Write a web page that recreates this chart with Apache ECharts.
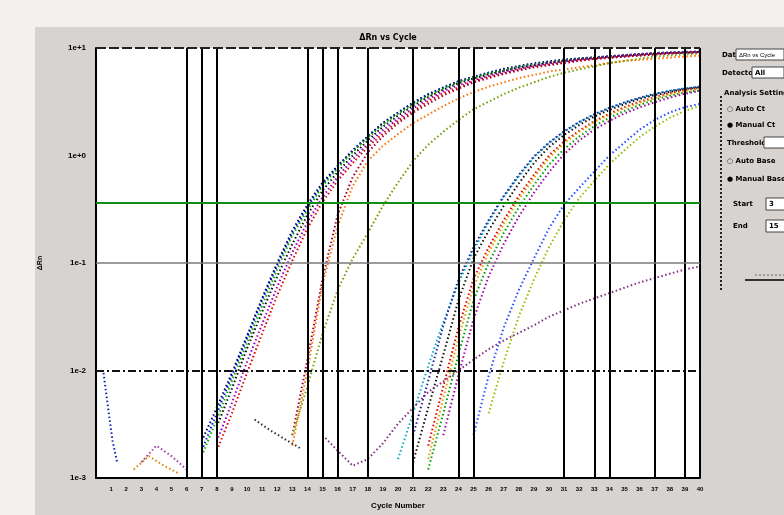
<!DOCTYPE html>
<html><head><meta charset="utf-8">
<script src="https://cdn.jsdelivr.net/npm/echarts@6/dist/echarts.min.js"></script>
<style>html,body{margin:0;padding:0;background:#f3f1ef}#c{width:784px;height:515px}</style>
</head><body><div id="c"></div>
<script>
// ---------- data ----------
const cycleLabels = ['1','2','3','4','5','6','7','8','9','10','11','12','13','14','15','16','17','18','19','20','21','22','23','24','25','26','27','28','29','30','31','32','33','34','35','36','37','38','39','40'];
const yTickValues = [0.001, 0.01, 0.1, 1, 10];
const yTickLabels = ['1e-3', '1e-2', '1e-1', '1e+0', '1e+1'];
const threshold = 0.36;
const markerCycles = [6, 7, 8, 14, 15, 16, 18, 21, 24, 25, 31, 33, 34, 37, 39];

// early wells (ΔRn per cycle, first value at given start cycle)
const wellE1 = [0.0018,0.004,0.0089,0.02,0.045,0.095,0.19,0.33,0.54,0.79,1.12,1.51,2.0,2.51,3.09,3.72,4.27,4.9,5.37,5.89,6.31,6.76,7.08,7.41,7.76,7.94,8.13,8.32,8.51,8.71,8.91,9.02,9.12,9.23];
const wellE2 = [0.0022,0.0045,0.0095,0.021,0.047,0.1,0.2,0.35,0.56,0.8,1.1,1.5,2.0,2.5,3.1,3.7,4.3,4.9,5.4,5.9,6.4,6.8,7.2,7.5,7.8,8.0,8.2,8.4,8.6,8.8,9.0,9.1,9.2,9.3];
const wellE3 = [0.0016,0.0035,0.008,0.018,0.04,0.087,0.18,0.31,0.52,0.76,1.08,1.47,1.95,2.45,3.0,3.6,4.2,4.8,5.3,5.8,6.2,6.7,7.0,7.3,7.7,7.9,8.1,8.3,8.5,8.7,8.9,9.0,9.1,9.2];
const wellE4 = [0.003,0.0068,0.016,0.035,0.075,0.15,0.28,0.47,0.7,1.0,1.38,1.85,2.35,2.9,3.5,4.1,4.7,5.2,5.7,6.1,6.6,6.9,7.3,7.6,7.9,8.1,8.3,8.5,8.7,8.9,9.0,9.1,9.2];
const wellE5 = [0.0022,0.005,0.012,0.027,0.06,0.125,0.24,0.41,0.63,0.92,1.28,1.72,2.2,2.75,3.35,3.95,4.5,5.0,5.5,6.0,6.4,6.8,7.2,7.5,7.8,8.0,8.3,8.5,8.7,8.9,9.0,9.1,9.2];
const wellE6 = [0.0018,0.004,0.0095,0.022,0.05,0.105,0.21,0.37,0.58,0.85,1.2,1.6,2.1,2.6,3.2,3.8,4.3,4.9,5.4,5.8,6.3,6.7,7.0,7.4,7.7,7.9,8.1,8.3,8.5,8.7,8.9,9.0,9.1];
const wellE7 = [0.0025,0.0126,0.071,0.28,0.63,1.07,1.51,2.0,2.51,3.02,3.63,4.17,4.79,5.25,5.75,6.17,6.61,6.92,7.24,7.59,7.94,8.13,8.32,8.51,8.71,8.91,9.02,9.12];
const wellE8 = [0.002,0.01,0.063,0.22,0.52,0.89,1.23,1.58,2.0,2.4,2.88,3.39,3.89,4.37,4.79,5.25,5.62,6.03,6.31,6.61,6.92,7.24,7.59,7.76,7.94,8.13,8.32,8.51];
const wellE9 = [0.0025,0.0071,0.022,0.056,0.11,0.19,0.34,0.56,0.89,1.26,1.66,2.14,2.69,3.16,3.72,4.27,4.79,5.37,5.89,6.31,6.76,7.24,7.59,7.94,8.32,8.51,8.71,8.91];
// late wells
const wellL1 = [0.0015,0.004,0.011,0.028,0.065,0.13,0.24,0.41,0.64,0.96,1.3,1.66,2.04,2.4,2.76,3.1,3.42,3.72,3.98,4.2,4.4];
const wellL2 = [0.0014,0.0045,0.014,0.045,0.11,0.2,0.34,0.55,0.85,1.2,1.55,1.92,2.3,2.65,3.0,3.35,3.65,3.9,4.15,4.3];
const wellL3 = [0.002,0.0071,0.025,0.071,0.14,0.25,0.42,0.66,1.0,1.35,1.7,2.09,2.45,2.82,3.16,3.47,3.8,4.07,4.27];
const wellL4 = [0.0015,0.0055,0.02,0.06,0.125,0.23,0.39,0.62,0.95,1.3,1.66,2.04,2.4,2.76,3.1,3.42,3.72,3.98,4.2];
const wellL5 = [0.0012,0.004,0.014,0.045,0.1,0.19,0.33,0.53,0.82,1.15,1.5,1.88,2.25,2.6,2.95,3.3,3.6,3.85,4.05];
const wellL6 = [0.0025,0.009,0.03,0.075,0.15,0.27,0.45,0.7,1.03,1.38,1.74,2.1,2.46,2.8,3.13,3.45,3.75,4.0];
const wellL7 = [0.0025,0.008,0.026,0.07,0.14,0.25,0.42,0.66,0.98,1.32,1.68,2.05,2.42,2.78,3.12,3.45,3.75,4.0,4.2,4.35];
const wellL8 = [0.0025,0.0089,0.025,0.056,0.11,0.21,0.35,0.5,0.71,1.0,1.32,1.74,2.14,2.51,2.82,3.02];
const wellL9 = [0.004,0.012,0.032,0.07,0.14,0.25,0.4,0.58,0.83,1.12,1.48,1.86,2.24,2.6,2.9];
// slow / noise wells
const wellP1 = [0.0025,0.0018,0.0013,0.0015,0.0021,0.0032,0.0045,0.0063,0.0079,0.01,0.0126,0.0158,0.019,0.0224,0.0263,0.0316,0.0363,0.0417,0.0468,0.0525,0.0589,0.066,0.0724,0.0794,0.087,0.093];
const wellN1 = [0.0095,0.0045,0.0022,0.0014];
const wellN2 = [0.0012,0.0016,0.0013,0.0011];
const wellN3 = [0.0014,0.002,0.0016,0.0012];
const wellN4 = [0.0035,0.0028,0.0023,0.0019];

const wells = [
  {name:'E1', start:7, values:wellE1, color:'#0010ff'},
  {name:'E2', start:7, values:wellE2, color:'#000070'},
  {name:'E3', start:7, values:wellE3, color:'#00b000'},
  {name:'E4', start:8, values:wellE4, color:'#101010'},
  {name:'E5', start:8, values:wellE5, color:'#9000c0'},
  {name:'E6', start:8, values:wellE6, color:'#e00000'},
  {name:'E7', start:13, values:wellE7, color:'#a00030'},
  {name:'E8', start:13, values:wellE8, color:'#ff7000'},
  {name:'E9', start:13, values:wellE9, color:'#70a000'},
  {name:'L1', start:20, values:wellL1, color:'#00b0c0'},
  {name:'L2', start:21, values:wellL2, color:'#101010'},
  {name:'L3', start:22, values:wellL3, color:'#e00000'},
  {name:'L4', start:22, values:wellL4, color:'#e0a000'},
  {name:'L5', start:22, values:wellL5, color:'#00a000'},
  {name:'L6', start:23, values:wellL6, color:'#a000a0'},
  {name:'L7', start:21, values:wellL7, color:'#2020a0'},
  {name:'L8', start:25, values:wellL8, color:'#2050ff'},
  {name:'L9', start:26, values:wellL9, color:'#90c000'},
  {name:'P1', start:15, values:wellP1, color:'#803080'},
  {name:'N1', start:0.5, step:0.3, values:wellN1, color:'#1020b0'},
  {name:'N2', start:2.5, values:wellN2, color:'#e08000'},
  {name:'N3', start:3, values:wellN3, color:'#a040a0'},
  {name:'N4', start:10.5, values:wellN4, color:'#303030'}
];

// ---------- chart ----------
const chart = echarts.init(document.getElementById('c'), null, {renderer:'canvas'});
const series = wells.map(w => ({
  name: w.name, type:'line', showSymbol:false, silent:true, z:3,
  data: w.values.map((v,i) => [w.start + i*(w.step||1), v]),
  lineStyle:{color:w.color, width:2, type:[1.5,2.5]}
}));
series.push({
  type:'line', data:[], silent:true, z:2,
  markLine:{
    silent:true, symbol:'none', label:{show:false}, animation:false,
    data: [
      ...markerCycles.map(c => ({xAxis:c, lineStyle:{color:'#000', width:2, type:'solid'}})),
      {xAxis:40, lineStyle:{color:'#000', width:2, type:'solid'}},
      {yAxis:10, lineStyle:{color:'#222', width:2, type:[10,3]}},
      {yAxis:0.1, lineStyle:{color:'#7a7a7a', width:1.5, type:'solid'}},
      {yAxis:0.01, lineStyle:{color:'#111', width:2, type:[8,3,2,3]}},
      {yAxis:threshold, lineStyle:{color:'#109010', width:2, type:'solid'}}
    ]
  }
});

const txt = (x,y,t,extra) => Object.assign({type:'text', x, y, style:{text:t, fill:'#000', font:'bold 7px "DejaVu Sans", sans-serif'}}, extra||{});
const box = (x,y,w,h) => ({type:'rect', shape:{x,y,width:w,height:h}, style:{fill:'#fff', stroke:'#444', lineWidth:1}});

chart.setOption({
  backgroundColor:'#f3f1ef',
  animation:false,
  title:{text:'ΔRn vs Cycle', left:383, top:29, textAlign:'center',
    textStyle:{fontSize:8, fontWeight:'bold', color:'#000', fontFamily:'DejaVu Sans'}},
  grid:{left:96, right:84, top:48, bottom:33, show:true, backgroundColor:'#fff', borderWidth:0},
  xAxis:{type:'value', min:0, max:40, interval:1,
    name:'Cycle Number', nameLocation:'middle', nameGap:24,
    nameTextStyle:{fontSize:8, fontWeight:'bold', color:'#000'},
    axisLine:{show:true, lineStyle:{color:'#000', width:2}},
    axisTick:{show:false}, splitLine:{show:false},
    axisLabel:{fontSize:6, fontWeight:'bold', color:'#000', margin:8,
      formatter:(v)=> (v>=1 && v<=cycleLabels.length) ? cycleLabels[v-1] : ''}},
  yAxis:{type:'log', min:0.001, max:10, logBase:10,
    name:'ΔRn', nameLocation:'middle', nameGap:52, nameRotate:90,
    nameTextStyle:{fontSize:7, fontWeight:'bold', color:'#000'},
    axisLine:{show:true, lineStyle:{color:'#000', width:2}},
    axisTick:{show:false}, splitLine:{show:false},
    axisLabel:{fontSize:8, fontWeight:'bold', color:'#000', margin:10,
      formatter:(v)=>{ const i = yTickValues.findIndex(t => Math.abs(Math.log10(t)-Math.log10(v))<1e-6); return i>=0 ? yTickLabels[i] : ''; }}},
  graphic:[
    {type:'rect', z:-10, silent:true, shape:{x:35, y:27, width:749, height:488}, style:{fill:'#d6d3d0'}},
    txt(722,52,'Data:'), box(736,49,48,11), txt(739,52,'ΔRn vs Cycle',{style:{text:'ΔRn vs Cycle', fill:'#000', font:'6px sans-serif'}}),
    txt(722,70,'Detector:'), box(752,67,32,11), txt(755,70,'All'),
    txt(724,90,'Analysis Settings'),
    {type:'line', shape:{x1:721, y1:96, x2:721, y2:292}, style:{stroke:'#222', lineWidth:2, lineDash:[2,2]}},
    txt(727,106,'○ Auto Ct'),
    txt(727,122,'● Manual Ct'),
    txt(727,140,'Threshold'), box(764,137,22,11),
    txt(727,158,'○ Auto Base'),
    txt(727,176,'● Manual Base'),
    txt(733,201,'Start'), box(766,198,20,12), txt(769,201,'3'),
    txt(733,223,'End'), box(766,220,20,12), txt(769,223,'15'),
    {type:'line', shape:{x1:745, y1:280, x2:784, y2:280}, style:{stroke:'#333', lineWidth:2}},
    {type:'line', shape:{x1:755, y1:275, x2:784, y2:275}, style:{stroke:'#666', lineWidth:1, lineDash:[2,2]}}
  ],
  series
});
</script></body></html>
